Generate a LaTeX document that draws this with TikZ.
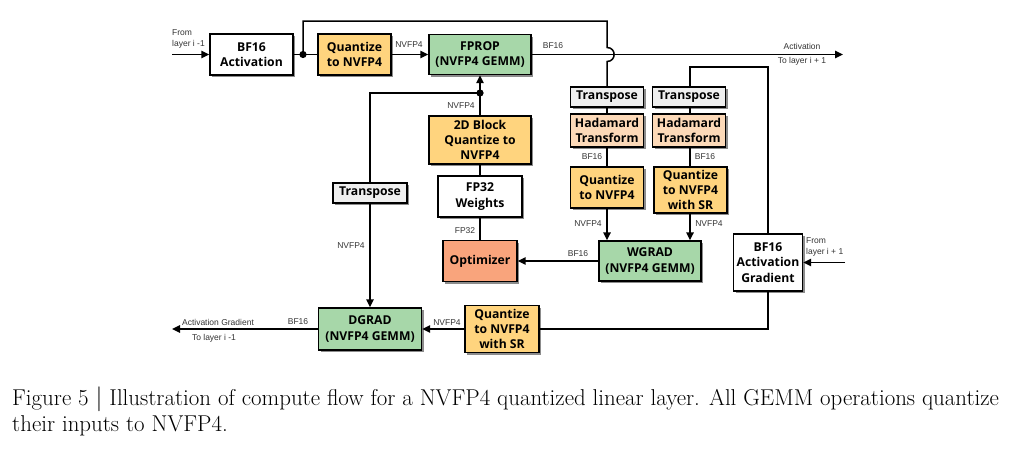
\documentclass[tikz,border=0pt]{standalone}
\usepackage{fontspec}
\usepackage{tikz}
\usetikzlibrary{arrows.meta,shadows}
\newfontfamily\boxfont{Open Sans}
\newfontfamily\lblfont{Liberation Sans}
\definecolor{gemmgreen}{RGB}{167,215,169}
\definecolor{qyellow}{RGB}{255,212,126}
\definecolor{optorange}{RGB}{249,164,124}
\definecolor{hpeach}{RGB}{252,217,184}
\definecolor{tgray}{RGB}{239,239,239}
\tikzset{
  blk/.style={draw=black, line width=1.4pt, fill=white, align=center, inner sep=0pt,
    font=\boxfont\bfseries\fontsize{12.2}{15.2}\selectfont,
    drop shadow={shadow xshift=2.2pt, shadow yshift=-2.2pt, fill=black!45, opacity=1}},
  lbl/.style={inner sep=0pt, text=black!80, font=\lblfont\fontsize{8.5}{11}\selectfont},
  wire/.style={line width=1.5pt},
  arr/.style={wire, -{Triangle[length=8pt,width=7.5pt]}}
}

\begin{document}
\begin{tikzpicture}[x=1pt,y=-1pt]
\useasboundingbox (0,0) rectangle (1031,450);

\node[blk,minimum width=83pt,minimum height=41pt] (act) at (251.5,54.5) {BF16\\Activation};
\node[blk,fill=qyellow,minimum width=73pt,minimum height=41pt] (quant) at (354.5,54.5) {Quantize\\to NVFP4};
\node[blk,fill=gemmgreen,minimum width=102pt,minimum height=40pt] (fprop) at (480,54.5) {FPROP\\(NVFP4 GEMM)};
\node[blk,fill=qyellow,minimum width=102pt,minimum height=48pt] (blockq) at (480,140) {2D Block\\Quantize to\\NVFP4};
\node[blk,minimum width=84pt,minimum height=41pt] (weights) at (480,196.5) {FP32\\Weights};
\node[blk,fill=optorange,minimum width=74pt,minimum height=41pt] (optim) at (480,261) {Optimizer};
\node[blk,fill=tgray,minimum width=74pt,minimum height=20pt] (transL) at (370,193) {Transpose};
\node[blk,fill=gemmgreen,minimum width=103pt,minimum height=42pt] (dgrad) at (370,329) {DGRAD\\(NVFP4 GEMM)};
\node[blk,fill=qyellow,minimum width=74pt,minimum height=47pt] (quantSR) at (502,329) {Quantize\\to NVFP4\\with SR};
\node[blk,fill=tgray,minimum width=73pt,minimum height=20pt] (transA) at (607,97) {Transpose};
\node[blk,fill=hpeach,minimum width=73pt,minimum height=33pt] (hadA) at (607,130.5) {Hadamard\\Transform};
\node[blk,fill=qyellow,minimum width=73pt,minimum height=41pt] (quantA) at (607,187.5) {Quantize\\to NVFP4};
\node[blk,fill=tgray,minimum width=73pt,minimum height=20pt] (transB) at (689,97) {Transpose};
\node[blk,fill=hpeach,minimum width=73pt,minimum height=33pt] (hadB) at (689,130.5) {Hadamard\\Transform};
\node[blk,fill=qyellow,minimum width=73pt,minimum height=46pt] (quantB) at (690.5,190) {Quantize\\to NVFP4\\with SR};
\node[blk,fill=gemmgreen,minimum width=102pt,minimum height=40pt] (wgrad) at (650,261) {WGRAD\\(NVFP4 GEMM)};
\node[blk,minimum width=69pt,minimum height=57pt] (agrad) at (768,262.5) {BF16\\Activation\\Gradient};

\coordinate (inL) at (172,54.5);
\coordinate (split) at (303,54.5);
\coordinate (outR) at (843,54.5);
\coordinate (tap) at (480,93);
\coordinate (inR) at (845,262.5);
\coordinate (outL) at (172,329);

\draw[arr] (inL) -- (act.west);
\draw[wire] (act.east) -- (quant.west);
\fill (split) circle (3.6);
\draw[arr] (quant.east) -- (fprop.west);
\draw[wire] (split) -- (303,21) -- (607,21) -- (607,47.5) .. controls (616.5,47.5) and (616.5,61.5) .. (607,61.5) -- (transA.north);
\draw[arr] (fprop.east) -- (outR);
\draw[arr] (blockq.north) -- (fprop.south);
\fill (tap) circle (3.6);
\draw[wire] (tap) -| (transL.north);
\draw[wire] (weights.north) -- (blockq.south);
\draw[wire] (optim.north) -- (weights.south);
\draw[arr] (transL.south) -- (dgrad.north);
\draw[wire] (transA.south) -- (hadA.north);
\draw[wire] (hadA.south) -- (quantA.north);
\draw[arr] (quantA.south) -- (quantA.south |- wgrad.north);
\draw[wire] (agrad.north) |- (690,67) -- (690,87);
\draw[wire] (690,107) -- (690,114);
\draw[wire] (690,147) -- (quantB.north -| 690,0);
\draw[arr] (quantB.south -| 690,0) -- (wgrad.north -| 690,0);
\draw[arr] (wgrad.west) -- (optim.east);
\draw[arr] (inR) -- (agrad.east);
\draw[wire] (agrad.south) |- (quantSR.east);
\draw[arr] (quantSR.west) -- (dgrad.east);
\draw[arr] (dgrad.west) -- (outL);

\node[lbl,align=left,anchor=west] (fromPrev) at (172,38.5) {From\\layer i -1};
\node[lbl] (nvA) at (409,45) {NVFP4};
\node[lbl] (bfA) at (553,46) {BF16};
\node[lbl] (actOut) at (802,46) {Activation};
\node[lbl] (toNext) at (802,61) {To layer i + 1};
\node[lbl] (nvB) at (461,106) {NVFP4};
\node[lbl] (bfB) at (592,157) {BF16};
\node[lbl] (bfC) at (705,157) {BF16};
\node[lbl] (nvC) at (588,224) {NVFP4};
\node[lbl] (nvD) at (709,224) {NVFP4};
\node[lbl] (fp32) at (465,231) {FP32};
\node[lbl] (nvE) at (351,246) {NVFP4};
\node[lbl] (bfD) at (578,254) {BF16};
\node[lbl,align=left,anchor=west] (fromNext) at (806,247) {From\\layer i + 1};
\node[lbl] (nvF) at (447,323) {NVFP4};
\node[lbl] (bfE) at (298,322) {BF16};
\node[lbl] (gradOut) at (218,322) {Activation Gradient};
\node[lbl] (toPrev) at (214,338) {To layer i -1};

\node[anchor=base west,inner sep=0pt,font=\fontsize{22.9}{26.5}\selectfont] (capA) at (12,405) {Figure 5 $|$ Illustration of compute flow for a NVFP4 quantized linear layer. All GEMM operations quantize};
\node[anchor=base west,inner sep=0pt,font=\fontsize{22.9}{26.5}\selectfont] (capB) at (12,431) {their inputs to NVFP4.};
\end{tikzpicture}
\end{document}
